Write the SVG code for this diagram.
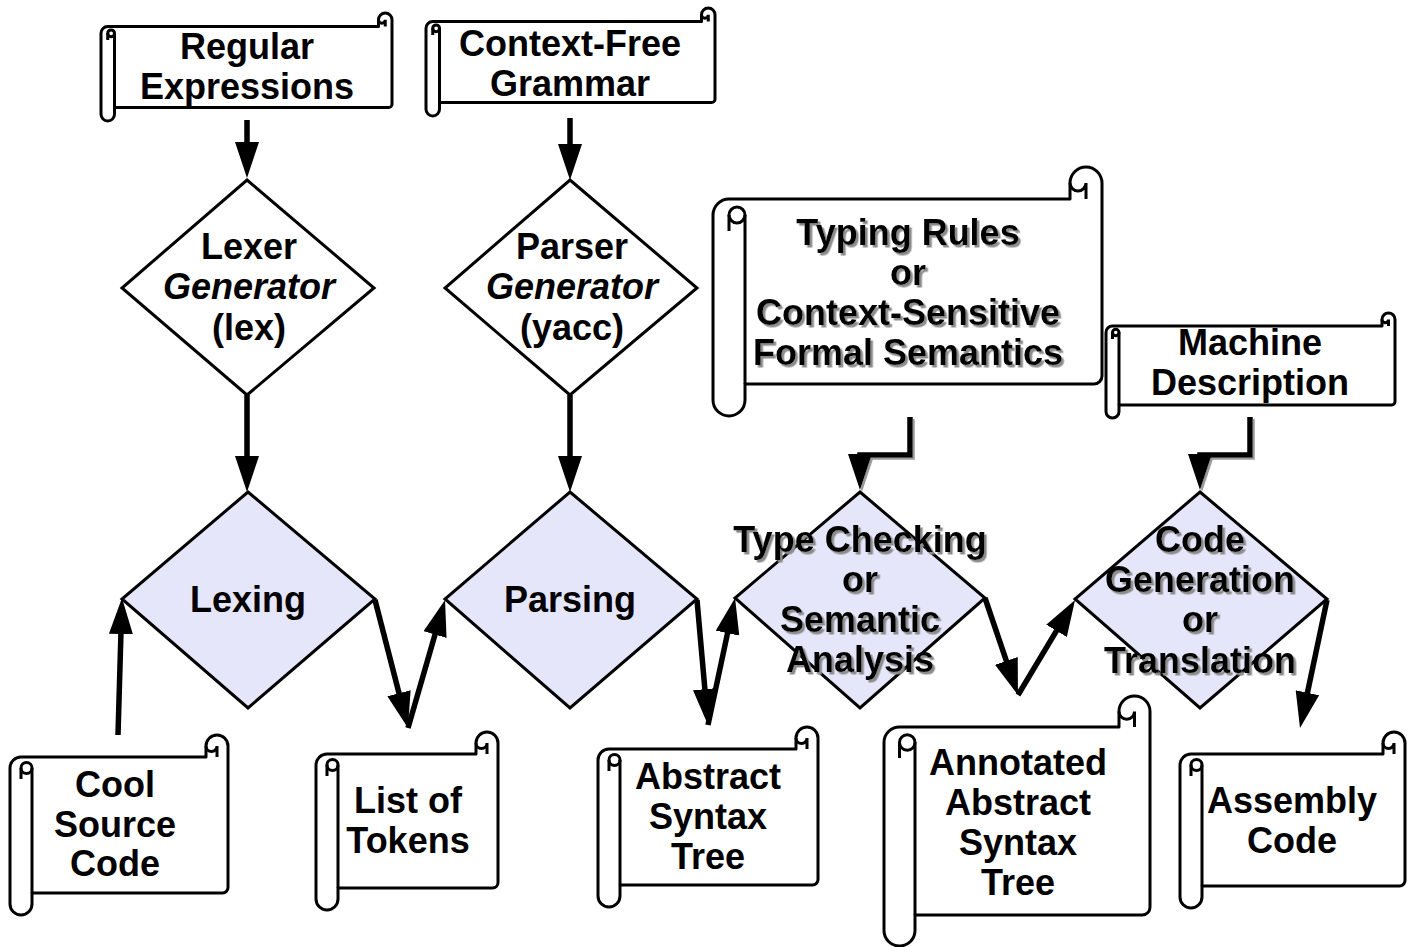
<svg xmlns="http://www.w3.org/2000/svg" width="1415" height="947" viewBox="0 0 1415 947">
<style>
.scroll{fill:#fff;stroke:#000;stroke-width:3;stroke-linejoin:round}
.ln{fill:none;stroke:#000;stroke-width:3}
.dia{stroke:#000;stroke-width:3;stroke-linejoin:miter}
.gen{fill:#fff}
.proc{fill:#E6E6FA}
.t{font-family:"Liberation Sans",Arial,Helvetica,sans-serif;font-size:36px;font-weight:bold;text-anchor:middle;fill:#000}
.i{font-style:italic}
.sh{filter:url(#ds)}
.csh{filter:url(#cds)}
.c{fill:none;stroke:#000;stroke-width:5.5;marker-end:url(#ah)}
</style>
<defs>
<marker id="ah" markerUnits="userSpaceOnUse" markerWidth="36" markerHeight="24" refX="6" refY="12" orient="auto">
<path d="M0,0 L36,12 L0,24 Z" fill="#000"/>
</marker>
<filter id="ds" x="-10%" y="-10%" width="120%" height="130%">
<feDropShadow dx="2.5" dy="2.5" stdDeviation="0.6" flood-color="#8c8c8c" flood-opacity="1"/>
</filter>
<filter id="cds" filterUnits="userSpaceOnUse" x="0" y="0" width="1415" height="947">
<feDropShadow dx="2" dy="2" stdDeviation="0.6" flood-color="#9a9a9a" flood-opacity="1"/>
</filter>
</defs>

<g id="regex">
<path class="scroll" d="M101,114.25 L101,33.25 A6.75,6.75 0 0 1 107.75,26.5 L378.5,26.5 L378.5,19.75 A6.75,6.75 0 0 1 392,19.75 L392,104.125 A3.375,3.375 0 0 1 388.625,107.5 L114.5,107.5 L114.5,114.25 A6.75,6.75 0 0 1 101,114.25 Z"/>
<path class="ln" d="M114.5,33.25 V107.5 M107.75,33.25 V40 M385.25,26.5 V19.75 A3.375,3.375 0 0 1 378.5,19.75"/>
<circle class="ln" cx="111.125" cy="33.25" r="3.375"/>
<text class="t" x="247" y="59">Regular</text>
<text class="t" x="247" y="99">Expressions</text>
</g>

<g id="cfg">
<path class="scroll" d="M426,109.25 L426,28.25 A6.75,6.75 0 0 1 432.75,21.5 L701.5,21.5 L701.5,14.75 A6.75,6.75 0 0 1 715,14.75 L715,99.125 A3.375,3.375 0 0 1 711.625,102.5 L439.5,102.5 L439.5,109.25 A6.75,6.75 0 0 1 426,109.25 Z"/>
<path class="ln" d="M439.5,28.25 V102.5 M432.75,28.25 V35 M708.25,21.5 V14.75 A3.375,3.375 0 0 1 701.5,14.75"/>
<circle class="ln" cx="436.125" cy="28.25" r="3.375"/>
<text class="t" x="570" y="56">Context-Free</text>
<text class="t" x="570" y="96">Grammar</text>
</g>

<g id="typing">
<path class="scroll" d="M713,400 L713,215 A16,16 0 0 1 729,199 L1070,199 L1070,183 A16,16 0 0 1 1102,183 L1102,376 A8,8 0 0 1 1094,384 L745,384 L745,400 A16,16 0 0 1 713,400 Z"/>
<path class="ln" d="M745,215 V384 M729,215 V231 M1086,199 V183 A8,8 0 0 1 1070,183"/>
<circle class="ln" cx="737" cy="215" r="8"/>
<g class="sh">
<text class="t" x="908" y="245">Typing Rules</text>
<text class="t" x="908" y="285">or</text>
<text class="t" x="908" y="325">Context-Sensitive</text>
<text class="t" x="908" y="365">Formal Semantics</text>
</g>
</g>

<g id="machine">
<path class="scroll" d="M1106,411.5 L1106,332.5 A6.5,6.5 0 0 1 1112.5,326 L1382,326 L1382,319.5 A6.5,6.5 0 0 1 1395,319.5 L1395,401.75 A3.25,3.25 0 0 1 1391.75,405 L1119,405 L1119,411.5 A6.5,6.5 0 0 1 1106,411.5 Z"/>
<path class="ln" d="M1119,332.5 V405 M1112.5,332.5 V339 M1388.5,326 V319.5 A3.25,3.25 0 0 1 1382,319.5"/>
<circle class="ln" cx="1115.75" cy="332.5" r="3.25"/>
<text class="t" x="1250" y="355">Machine</text>
<text class="t" x="1250" y="395">Description</text>
</g>

<g id="lexgen">
<polygon class="dia gen" points="247,180 374,288 247,395 122,288"/>
<text class="t" x="249" y="259">Lexer</text>
<text class="t i" x="249" y="299">Generator</text>
<text class="t" x="249" y="340">(lex)</text>
</g>

<g id="pargen">
<polygon class="dia gen" points="570,180 697,288 570,395 445,288"/>
<text class="t" x="572" y="259">Parser</text>
<text class="t i" x="572" y="299">Generator</text>
<text class="t" x="572" y="340">(yacc)</text>
</g>

<g id="lexing">
<polygon class="dia proc" points="248,492 375,599 248,708 122,599"/>
<text class="t" x="248" y="612">Lexing</text>
</g>

<g id="parsing">
<polygon class="dia proc" points="570,492 697,599 570,708 445,599"/>
<text class="t" x="570" y="612">Parsing</text>
</g>

<g id="typecheck">
<polygon class="dia proc" points="860,492 985,598 860,708 735,598"/>
<g class="sh">
<text class="t" x="860" y="552">Type Checking</text>
<text class="t" x="860" y="592">or</text>
<text class="t" x="860" y="632">Semantic</text>
<text class="t" x="860" y="672">Analysis</text>
</g>
</g>

<g id="codegen">
<polygon class="dia proc" points="1200,492 1327,599 1200,708 1075,599"/>
<g class="sh">
<text class="t" x="1200" y="552">Code</text>
<text class="t" x="1200" y="592">Generation</text>
<text class="t" x="1200" y="632">or</text>
<text class="t" x="1200" y="673">Translation</text>
</g>
</g>

<g id="cool">
<path class="scroll" d="M10,904 L10,768 A11,11 0 0 1 21,757 L206,757 L206,746 A11,11 0 0 1 228,746 L228,887.5 A5.5,5.5 0 0 1 222.5,893 L32,893 L32,904 A11,11 0 0 1 10,904 Z"/>
<path class="ln" d="M32,768 V893 M21,768 V779 M217,757 V746 A5.5,5.5 0 0 1 206,746"/>
<circle class="ln" cx="26.5" cy="768" r="5.5"/>
<text class="t" x="115" y="797">Cool</text>
<text class="t" x="115" y="837">Source</text>
<text class="t" x="115" y="876">Code</text>
</g>

<g id="tokens">
<path class="scroll" d="M316,899 L316,765 A11,11 0 0 1 327,754 L476,754 L476,743 A11,11 0 0 1 498,743 L498,882.5 A5.5,5.5 0 0 1 492.5,888 L338,888 L338,899 A11,11 0 0 1 316,899 Z"/>
<path class="ln" d="M338,765 V888 M327,765 V776 M487,754 V743 A5.5,5.5 0 0 1 476,743"/>
<circle class="ln" cx="332.5" cy="765" r="5.5"/>
<text class="t" x="408" y="813">List of</text>
<text class="t" x="408" y="853">Tokens</text>
</g>

<g id="ast">
<path class="scroll" d="M598,896 L598,760 A11,11 0 0 1 609,749 L796,749 L796,738 A11,11 0 0 1 818,738 L818,879.5 A5.5,5.5 0 0 1 812.5,885 L620,885 L620,896 A11,11 0 0 1 598,896 Z"/>
<path class="ln" d="M620,760 V885 M609,760 V771 M807,749 V738 A5.5,5.5 0 0 1 796,738"/>
<circle class="ln" cx="614.5" cy="760" r="5.5"/>
<text class="t" x="708" y="789">Abstract</text>
<text class="t" x="708" y="829">Syntax</text>
<text class="t" x="708" y="869">Tree</text>
</g>

<g id="aast">
<path class="scroll" d="M884,930.5 L884,742.5 A15.5,15.5 0 0 1 899.5,727 L1119,727 L1119,711.5 A15.5,15.5 0 0 1 1150,711.5 L1150,907.25 A7.75,7.75 0 0 1 1142.25,915 L915,915 L915,930.5 A15.5,15.5 0 0 1 884,930.5 Z"/>
<path class="ln" d="M915,742.5 V915 M899.5,742.5 V758 M1134.5,727 V711.5 A7.75,7.75 0 0 1 1119,711.5"/>
<circle class="ln" cx="907.25" cy="742.5" r="7.75"/>
<text class="t" x="1018" y="775">Annotated</text>
<text class="t" x="1018" y="815">Abstract</text>
<text class="t" x="1018" y="855">Syntax</text>
<text class="t" x="1018" y="895">Tree</text>
</g>

<g id="asm">
<path class="scroll" d="M1180,897 L1180,765 A11,11 0 0 1 1191,754 L1383,754 L1383,743 A11,11 0 0 1 1405,743 L1405,880.5 A5.5,5.5 0 0 1 1399.5,886 L1202,886 L1202,897 A11,11 0 0 1 1180,897 Z"/>
<path class="ln" d="M1202,765 V886 M1191,765 V776 M1394,754 V743 A5.5,5.5 0 0 1 1383,743"/>
<circle class="ln" cx="1196.5" cy="765" r="5.5"/>
<text class="t" x="1292" y="813">Assembly</text>
<text class="t" x="1292" y="853">Code</text>
</g>

<g id="connectors">
<path class="c" d="M247,120 V148"/>
<path class="c" d="M570,118 V150"/>
<path class="c" d="M247,395 V462"/>
<path class="c" d="M570,395 V462"/>
<path class="c csh" d="M910,417 V455 H860 V460"/>
<path class="c csh" d="M1250,417 V455 H1200 V460"/>
<path class="c" d="M118,735 L121.1,628"/>
<path class="c" d="M375,600 L400.5,699"/>
<path class="c" d="M408,728 L436.7,628.8"/>
<path class="c" d="M697,600 L705.4,695.1"/>
<path class="c" d="M708,725 L728.8,627.3"/>
<path class="c" d="M985,598 L1008.3,666.6"/>
<path class="c" d="M1018,695 L1059.6,625.7"/>
<path class="c" d="M1327,600 L1306.2,698.6"/>
</g>
</svg>
